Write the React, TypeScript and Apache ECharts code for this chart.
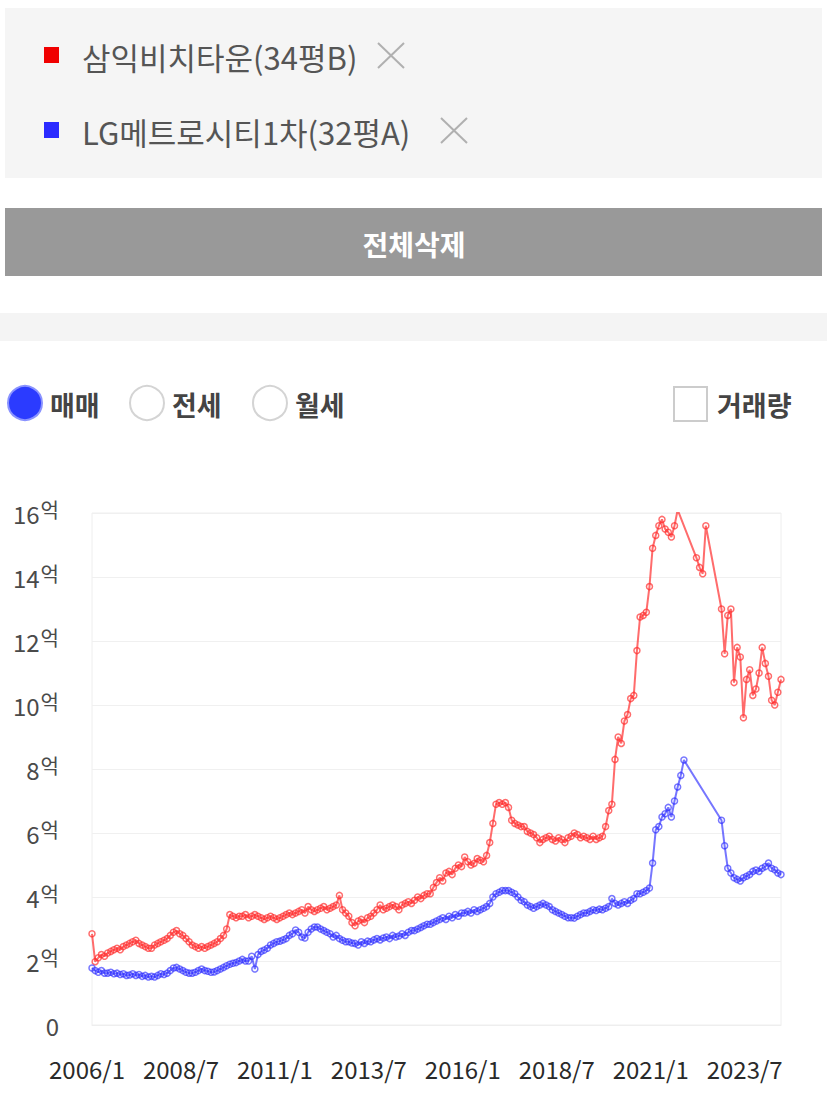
import React, { useEffect, useRef } from "react";
import * as echarts from "echarts";

const FONT = '"Noto Sans CJK KR", "Noto Sans", sans-serif';

// ---- categories (monthly, 2006/1 .. 2024/5) ----
const startYear = 2006;
const monthCount = 221;
const months: string[] = [];
for (let i = 0; i < monthCount; i++) {
  months.push(`${startYear + Math.floor(i / 12)}/${(i % 12) + 1}`);
}

const seriesNames = ["삼익비치타운(34평B)", "LG메트로시티1차(32평A)"];

// ---- values in 억 ----
const samikValues: (number | null)[] = [
  2.85, 1.98, 2.1, 2.2, 2.15, 2.25, 2.3, 2.35, 2.4, 2.35, 2.45, 2.5,
  2.55, 2.6, 2.65, 2.55, 2.5, 2.45, 2.4, 2.4, 2.5, 2.55, 2.6, 2.65,
  2.7, 2.8, 2.9, 2.95, 2.85, 2.8, 2.7, 2.6, 2.5, 2.45, 2.4, 2.45,
  2.4, 2.45, 2.5, 2.55, 2.6, 2.7, 2.8, 3.0, 3.45, 3.4, 3.35, 3.4,
  3.4, 3.45, 3.35, 3.4, 3.45, 3.4, 3.35, 3.3, 3.35, 3.4, 3.35, 3.3,
  3.35, 3.4, 3.45, 3.5, 3.45, 3.5, 3.55, 3.6, 3.5, 3.7, 3.6, 3.55,
  3.6, 3.65, 3.7, 3.6, 3.65, 3.7, 3.75, 4.05, 3.6, 3.5, 3.4, 3.2,
  3.1, 3.25, 3.3, 3.2, 3.35, 3.4, 3.5, 3.6, 3.75, 3.6, 3.65, 3.7,
  3.75, 3.7, 3.6, 3.75, 3.8, 3.85, 3.8, 3.9, 4.0, 3.95, 4.05, 4.1,
  4.1, 4.3, 4.45, 4.6, 4.5, 4.75, 4.8, 4.7, 4.9, 5.0, 4.95, 5.25,
  5.1, 5.0, 5.05, 5.2, 5.15, 5.1, 5.3, 5.7, 6.3, 6.9, 6.95, 6.9,
  6.95, 6.8, 6.4, 6.3, 6.25, 6.2, 6.2, 6.05, 6.0, 5.95, 5.85, 5.7,
  5.8, 5.85, 5.9, 5.8, 5.75, 5.85, 5.8, 5.7, 5.85, 5.9, 6.0, 5.95,
  5.85, 5.9, 5.85, 5.8, 5.9, 5.8, 5.85, 5.9, 6.2, 6.7, 6.9, 8.3,
  9.0, 8.8, 9.5, 9.7, 10.2, 10.3, 11.7, 12.75, 12.8, 12.9, 13.7, 14.9,
  15.3, 15.6, 15.8, 15.5, 15.4, 15.25, 15.6, 16.1, null, null, null, null,
  null, 14.6, 14.3, 14.1, 15.6, null, null, null, null, 13.0, 11.6, 12.8,
  13.0, 10.7, 11.8, 11.5, 9.6, 10.8, 11.1, 10.3, 10.5, 11.0, 11.8, 11.3,
  10.9, 10.15, 10.0, 10.4, 10.8,
];

const lgValues: (number | null)[] = [
  1.78, 1.7, 1.65, 1.7, 1.62, 1.62, 1.65, 1.6, 1.62, 1.58, 1.6, 1.55,
  1.56, 1.6, 1.55, 1.58, 1.52, 1.55, 1.5, 1.52, 1.5, 1.55, 1.6, 1.58,
  1.62, 1.7, 1.78, 1.8, 1.75, 1.7, 1.65, 1.62, 1.62, 1.65, 1.7, 1.75,
  1.7, 1.68, 1.65, 1.66, 1.7, 1.75, 1.8, 1.85, 1.9, 1.93, 1.95, 2.0,
  2.05, 2.0, 2.0, 2.15, 1.75, 2.2, 2.3, 2.34, 2.4, 2.5, 2.55, 2.6,
  2.62, 2.66, 2.7, 2.8, 2.85, 2.97, 2.9, 2.75, 2.72, 2.9, 3.0, 3.06,
  3.06, 3.0, 2.95, 2.9, 2.85, 2.75, 2.8, 2.7, 2.65, 2.6, 2.6, 2.56,
  2.55, 2.5, 2.6, 2.55, 2.62, 2.6, 2.66, 2.7, 2.66, 2.72, 2.75, 2.7,
  2.8, 2.75, 2.78, 2.85, 2.8, 2.9, 2.95, 2.95, 3.0, 3.05, 3.1, 3.15,
  3.15, 3.2, 3.25, 3.3, 3.35, 3.3, 3.4, 3.35, 3.45, 3.4, 3.5, 3.5,
  3.55, 3.5, 3.6, 3.55, 3.6, 3.65, 3.7, 3.8, 4.0, 4.1, 4.15, 4.2,
  4.2, 4.2, 4.15, 4.1, 4.0, 3.9, 3.85, 3.75, 3.7, 3.65, 3.7, 3.75,
  3.8, 3.75, 3.7, 3.6, 3.55, 3.5, 3.45, 3.4, 3.35, 3.35, 3.34, 3.4,
  3.45, 3.5, 3.5, 3.55, 3.6, 3.58, 3.62, 3.6, 3.65, 3.7, 3.95, 3.8,
  3.75, 3.8, 3.85, 3.8, 3.9, 3.95, 4.1, 4.1, 4.15, 4.2, 4.28, 5.06,
  6.1, 6.2, 6.5, 6.6, 6.8, 6.5, 7.0, 7.44, 7.8, 8.28, null, null,
  null, null, null, null, null, null, null, null, null, 6.4, 5.6, 4.9,
  4.75, 4.6, 4.55, 4.5, 4.6, 4.65, 4.7, 4.8, 4.84, 4.8, 4.9, 4.95,
  5.06, 4.9, 4.85, 4.75, 4.7,
];

const radioLabels = ["매매", "전세", "월세"];
const checkboxLabel = "거래량";
const clearAllLabel = "전체삭제";

const RED_LINE = "rgba(255,45,45,0.7)";
const BLUE_LINE = "rgba(45,45,255,0.65)";

function buildGraphic() {
  const els: any[] = [];
  // legend panel
  els.push({ type: "rect", shape: { x: 5, y: 8, width: 817, height: 170 }, style: { fill: "#f5f5f5" } });
  const rows = [
    { y: 55, color: "#f00000", label: seriesNames[0], xX: 378 },
    { y: 130, color: "#2a2aff", label: seriesNames[1], xX: 441 },
  ];
  rows.forEach((r) => {
    els.push({ type: "rect", shape: { x: 44, y: r.y - 8, width: 15, height: 16 }, style: { fill: r.color } });
    els.push({
      type: "text",
      style: { text: r.label, x: 82, y: r.y + 1, fontSize: 31, fontFamily: FONT, fill: "#555", verticalAlign: "middle", align: "left" },
    });
    els.push({ type: "line", shape: { x1: r.xX, y1: r.y - 12, x2: r.xX + 26, y2: r.y + 13 }, style: { stroke: "#b0b0b0", lineWidth: 2 } });
    els.push({ type: "line", shape: { x1: r.xX + 26, y1: r.y - 12, x2: r.xX, y2: r.y + 13 }, style: { stroke: "#b0b0b0", lineWidth: 2 } });
  });
  // clear-all button
  els.push({ type: "rect", shape: { x: 5, y: 208, width: 817, height: 68 }, style: { fill: "#999999" } });
  els.push({
    type: "text",
    style: { text: clearAllLabel, x: 414, y: 244, fontSize: 28, fontWeight: "bold", fontFamily: FONT, fill: "#ffffff", align: "center", verticalAlign: "middle" },
  });
  // band
  els.push({ type: "rect", shape: { x: 0, y: 313, width: 827, height: 28 }, style: { fill: "#f4f4f4" } });
  // radios
  const radioX = [25, 147, 270];
  radioLabels.forEach((lab, i) => {
    const sel = i === 0;
    els.push({
      type: "circle",
      shape: { cx: radioX[i], cy: 403, r: 17 },
      style: sel ? { fill: "#2b3bff", stroke: "#8a93ff", lineWidth: 2 } : { fill: "#ffffff", stroke: "#d4d4d4", lineWidth: 2 },
    });
    els.push({
      type: "text",
      style: { text: lab, x: radioX[i] + 25, y: 404, fontSize: 27, fontWeight: "bold", fontFamily: FONT, fill: "#444", verticalAlign: "middle", align: "left" },
    });
  });
  els.push({ type: "rect", shape: { x: 674, y: 387, width: 33, height: 34 }, style: { fill: "#ffffff", stroke: "#cccccc", lineWidth: 2 } });
  els.push({
    type: "text",
    style: { text: checkboxLabel, x: 717, y: 404, fontSize: 27, fontWeight: "bold", fontFamily: FONT, fill: "#444", verticalAlign: "middle", align: "left" },
  });
  return els;
}

export default function App() {
  const ref = useRef<HTMLDivElement>(null);
  useEffect(() => {
    document.body.style.margin = "0";
    if (!ref.current) return;
    const chart = echarts.init(ref.current, undefined, { renderer: "svg" });
    const option: any = {
      animation: false,
      backgroundColor: "#ffffff",
      graphic: buildGraphic(),
      grid: { left: 92, right: 46, top: 513, bottom: 86, show: true, borderColor: "#eeeeee", borderWidth: 1 },
      xAxis: {
        type: "category",
        data: months,
        boundaryGap: false,
        axisLine: { show: true, lineStyle: { color: "#eeeeee" } },
        axisTick: { show: false },
        splitLine: { show: false },
        axisLabel: { interval: 29, color: "#2a2a2a", fontSize: 24, fontFamily: FONT, margin: 31, padding: [0, 10, 0, 0] },
      },
      yAxis: {
        type: "value",
        min: 0,
        max: 16,
        interval: 2,
        axisLine: { show: false },
        axisTick: { show: false },
        splitLine: { show: true, lineStyle: { color: "#f0f0f0", width: 1 } },
        axisLabel: {
          margin: 33,
          formatter: (v: number) => (v === 0 ? "{n|0}" : `{n|${v}}{u|억}`),
          rich: {
            n: { fontSize: 24, color: "#4a4a4a", fontFamily: FONT },
            u: { fontSize: 20, color: "#4a4a4a", fontFamily: FONT, padding: [0, 0, 8, 1] },
          },
        },
      },
      series: [
        {
          type: "line",
          name: seriesNames[0],
          data: samikValues,
          connectNulls: true,
          showAllSymbol: true,
          symbol: "circle",
          symbolSize: 6,
          lineStyle: { color: RED_LINE, width: 2 },
          itemStyle: { color: "rgba(255,255,255,0)", borderColor: RED_LINE, borderWidth: 1.5 },
        },
        {
          type: "line",
          name: seriesNames[1],
          data: lgValues,
          connectNulls: true,
          showAllSymbol: true,
          symbol: "circle",
          symbolSize: 6,
          lineStyle: { color: BLUE_LINE, width: 2 },
          itemStyle: { color: "rgba(255,255,255,0)", borderColor: BLUE_LINE, borderWidth: 1.5 },
        },
      ],
    };
    chart.setOption(option);
    return () => chart.dispose();
  }, []);
  return <div ref={ref} style={{ width: 827, height: 1111 }} />;
}
